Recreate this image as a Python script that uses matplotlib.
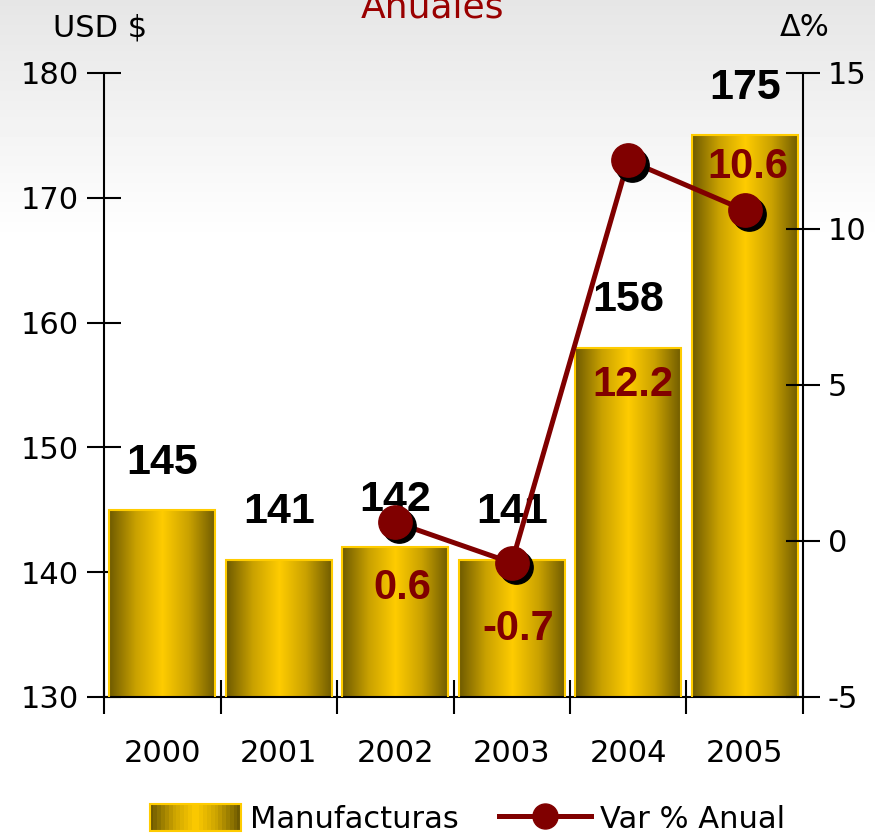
import numpy as np
import matplotlib
matplotlib.use("Agg")
import matplotlib.pyplot as plt
from matplotlib.colors import LinearSegmentedColormap
from matplotlib.patches import Rectangle
from matplotlib.lines import Line2D
from matplotlib.legend_handler import HandlerBase
from matplotlib.transforms import offset_copy

plt.rcParams['font.family'] = ['DejaVu Sans']
plt.rcParams['axes.unicode_minus'] = False

years = ['2000', '2001', '2002', '2003', '2004', '2005']
manufacturas = [145, 141, 142, 141, 158, 175]
var_years = ['2002', '2003', '2004', '2005']
var_anual = [0.6, -0.7, 12.2, 10.6]

# label offsets (points) for the red % labels
var_offsets = [(5, -47), (5, -48), (3, -162), (2, 31)]

DARK_RED = '#800000'
NUM_FONT = ['Liberation Sans', 'DejaVu Sans']
gold = LinearSegmentedColormap.from_list('gold', ['#6e5a00', '#c9a100', '#ffcc00', '#c9a100', '#6e5a00'])

fig = plt.figure(figsize=(8.75, 8.38), dpi=100)

# background gradient
bg = fig.add_axes([0, 0, 1, 1], zorder=-10)
grad = np.clip(np.linspace(0.90, 1.25, 256), 0, 1).reshape(-1, 1)
bg.imshow(grad, aspect='auto', cmap='gray', vmin=0, vmax=1, extent=[0, 1, 0, 1], origin='upper')
bg.axis('off')

ax = fig.add_axes([0.1189, 0.1683, 0.7988, 0.7446])
ax.patch.set_alpha(0)
x = np.arange(len(years))
bars = ax.bar(x, manufacturas, width=0.91, color='#c9a100', edgecolor='none', zorder=2)
gimg = np.linspace(0, 1, 256).reshape(1, -1)
for b in bars:
    im = ax.imshow(gimg, cmap=gold, aspect='auto', zorder=2.5,
                   extent=[b.get_x(), b.get_x() + b.get_width(), 130, b.get_height()])
    im.set_clip_path(b)
ax.bar(x, manufacturas, width=0.91, color='none', edgecolor='#ffcc00', linewidth=1.5, zorder=3)

for xi, v in zip(x, manufacturas):
    ax.annotate(str(v), (xi, v), xytext=(0, 34), textcoords='offset points',
                ha='center', va='center', fontsize=31, fontweight='bold', color='black',
                family=NUM_FONT, zorder=6)

ax.set_xlim(-0.5, 5.5)
ax.set_ylim(130, 180)
ax.set_yticks([130, 140, 150, 160, 170, 180])
ax.set_xticks(np.arange(len(years) + 1) - 0.5)
ax.set_xticklabels([])
ax.set_xticks(x, minor=True)
ax.set_xticklabels(years, minor=True)
ax.tick_params(axis='x', which='major', direction='inout', length=24, width=1.5)
ax.tick_params(axis='x', which='minor', length=0, pad=30, labelsize=22)
ax.tick_params(axis='y', direction='inout', length=24, width=1.5, labelsize=22, pad=6)
ax.spines['top'].set_visible(False)
ax.spines['right'].set_visible(False)
for s in ['left', 'bottom']:
    ax.spines[s].set_linewidth(1.5)

ax2 = ax.twinx()
ax2.set_ylim(-5, 15)
ax2.set_yticks([-5, 0, 5, 10, 15])
ax2.tick_params(axis='y', direction='inout', length=24, width=1.5, labelsize=22, pad=6)
for s in ['top', 'left', 'bottom']:
    ax2.spines[s].set_visible(False)
ax2.spines['right'].set_linewidth(1.5)

vx = [years.index(y) for y in var_years]
ax2.plot(vx, var_anual, color=DARK_RED, linewidth=3.6, zorder=3)
shadow = offset_copy(ax2.transData, fig=fig, x=3, y=-3, units='points')
ax2.plot(vx, var_anual, linestyle='none', marker='o', markersize=24, color='black',
         transform=shadow, zorder=4)
ax2.plot(vx, var_anual, linestyle='none', marker='o', markersize=24, color=DARK_RED, zorder=5)
for xi, v, off in zip(vx, var_anual, var_offsets):
    ax2.annotate(f'{v:.1f}', (xi, v), xytext=off, textcoords='offset points',
                 ha='center', va='center', fontsize=30, fontweight='bold', color=DARK_RED,
                 family=NUM_FONT, zorder=6)


class GradHandler(HandlerBase):
    def create_artists(self, legend, orig_handle, xdescent, ydescent, width, height, fontsize, trans):
        arts = []
        n = 24
        for i in range(n):
            r = Rectangle((-xdescent + width * i / n, -ydescent), width / n + 0.3, height,
                          facecolor=gold(i / (n - 1)), edgecolor='none', transform=trans)
            arts.append(r)
        arts.append(Rectangle((-xdescent, -ydescent), width, height, facecolor='none',
                              edgecolor='#ffcc00', linewidth=1.5, transform=trans))
        return arts


bar_handle = Rectangle((0, 0), 1, 1)
line_handle = Line2D([], [], color=DARK_RED, linewidth=3.6, marker='o', markersize=18)
fig.legend([bar_handle, line_handle], ['Manufacturas', 'Var % Anual'],
           handler_map={Rectangle: GradHandler()}, loc='center', bbox_to_anchor=(0.534, 0.023),
           ncol=2, frameon=False, fontsize=22, handlelength=3.0, handleheight=1.0,
           handletextpad=0.3, columnspacing=1.3)

fig.text(0.114, 1 - 28 / 838, 'USD $', ha='center', va='center', fontsize=22)
fig.text(0.92, 1 - 28 / 838, 'Δ%', ha='center', va='center', fontsize=22)
fig.text(0.494, 1 - 8 / 838, 'Anuales', ha='center', va='center', fontsize=26, color='#990000')

fig.savefig('out.png', dpi=100)
